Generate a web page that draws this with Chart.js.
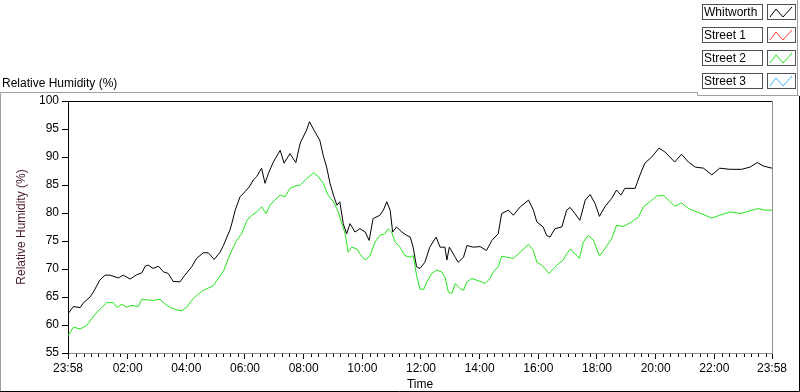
<!DOCTYPE html>
<html>
<head>
<meta charset="utf-8">
<script src="https://cdn.jsdelivr.net/npm/chart.js@4.4.0/dist/chart.umd.min.js"></script>
<style>
    html, body { margin: 0; padding: 0; background: #fff; }
</style>
</head>
<body>
<canvas id="chart-rh" width="800" height="392"></canvas>
<script>
// 時間軸: 23:58 起算的分鐘數
var tickLabels = ["23:58", "02:00", "04:00", "06:00", "08:00", "10:00", "12:00", "14:00", "16:00", "18:00", "20:00", "22:00", "23:58"];
var seriesNames = ["Whitworth", "Street 1", "Street 2", "Street 3"];
var seriesColors = ["#000000", "#ff3b3b", "#22e619", "#3fb4ff"];

var whitworthTime = [0, 11, 25, 31, 45, 52, 65, 76, 86, 103, 113, 127, 141, 151, 158, 164, 174, 185, 195, 205, 215, 229, 239, 253, 263, 277, 287, 299, 311, 318, 325, 331, 335, 342, 352, 362, 372, 379, 386, 396, 403, 410, 420, 434, 442, 454, 466, 475, 488, 494, 505, 515, 522, 529, 536, 543, 550, 556, 563, 570, 577, 587, 597, 608, 616, 624, 638, 645, 652, 659, 664, 672, 683, 693, 700, 706, 713, 720, 730, 740, 753, 761, 771, 775, 780, 792, 798, 809, 816, 829, 843, 856, 867, 880, 887, 901, 911, 925, 942, 952, 959, 972, 979, 986, 996, 1010, 1020, 1027, 1037, 1047, 1058, 1068, 1078, 1087, 1098, 1112, 1122, 1131, 1139, 1160, 1170, 1180, 1194, 1209, 1221, 1241, 1255, 1269, 1283, 1300, 1317, 1333, 1354, 1378, 1395, 1410, 1422, 1440];
var whitworthRH = [62.0, 63.3, 63.1, 63.9, 65.0, 65.9, 68.0, 68.9, 68.9, 68.4, 68.9, 68.2, 69.0, 69.3, 70.5, 70.7, 70.1, 70.5, 69.5, 69.2, 67.8, 67.7, 68.9, 70.4, 71.9, 72.9, 72.9, 71.7, 73.0, 74.2, 75.7, 76.9, 78.1, 80.5, 82.9, 83.8, 84.8, 85.9, 86.5, 88.0, 85.3, 87.1, 89.1, 91.2, 88.9, 90.6, 89.0, 92.5, 94.8, 96.3, 94.5, 93.0, 90.3, 88.2, 85.3, 83.2, 81.4, 82.0, 78.1, 76.3, 78.1, 76.6, 77.2, 76.6, 75.1, 79.0, 79.6, 80.5, 82.0, 80.5, 76.6, 77.5, 76.6, 76.0, 75.7, 73.9, 70.4, 70.1, 71.2, 73.9, 75.7, 73.9, 73.9, 71.6, 73.9, 72.1, 71.2, 72.1, 74.2, 73.9, 74.0, 73.3, 75.1, 76.3, 79.9, 80.5, 79.6, 81.1, 82.3, 80.5, 78.4, 77.5, 76.0, 75.7, 77.2, 77.5, 80.5, 81.0, 79.9, 78.7, 82.3, 83.3, 81.7, 79.4, 81.1, 82.6, 84.1, 83.2, 84.4, 84.4, 86.8, 88.9, 90.0, 91.6, 90.9, 89.1, 90.5, 89.1, 88.2, 88.0, 86.8, 88.0, 87.8, 87.8, 88.2, 89.0, 88.4, 88.0];

var street2Time = [0, 11, 25, 38, 48, 59, 69, 79, 93, 100, 110, 120, 130, 144, 151, 161, 174, 188, 198, 209, 219, 233, 243, 253, 263, 277, 287, 297, 307, 318, 328, 338, 345, 355, 366, 376, 386, 396, 405, 413, 423, 434, 444, 454, 464, 475, 488, 502, 512, 522, 532, 543, 553, 560, 567, 573, 580, 591, 597, 608, 618, 628, 638, 648, 655, 662, 669, 679, 689, 700, 706, 713, 720, 728, 734, 744, 754, 764, 771, 778, 785, 792, 802, 809, 816, 826, 836, 846, 853, 863, 870, 880, 887, 897, 911, 925, 942, 952, 959, 969, 984, 1000, 1013, 1020, 1028, 1037, 1046, 1054, 1064, 1075, 1087, 1098, 1112, 1122, 1136, 1153, 1167, 1177, 1190, 1204, 1218, 1228, 1241, 1255, 1269, 1286, 1303, 1317, 1333, 1354, 1375, 1395, 1412, 1426, 1440];
var street2RH = [58.1, 59.6, 59.3, 59.9, 61.1, 62.3, 63.1, 64.0, 64.0, 63.1, 63.7, 63.2, 63.5, 63.3, 64.6, 64.5, 64.4, 64.6, 63.8, 63.1, 62.8, 62.5, 63.2, 64.4, 65.3, 66.2, 66.6, 67.0, 68.3, 69.6, 71.9, 73.9, 75.1, 76.3, 78.7, 79.6, 80.2, 81.1, 79.9, 81.4, 82.3, 83.2, 82.9, 84.4, 84.8, 85.0, 86.1, 87.2, 86.5, 85.3, 83.2, 82.0, 80.2, 78.1, 76.3, 73.0, 73.9, 73.6, 72.7, 71.6, 72.4, 74.8, 76.0, 76.3, 77.2, 76.6, 74.8, 73.9, 72.4, 72.1, 72.4, 68.9, 66.4, 66.4, 67.7, 69.2, 69.8, 69.5, 68.6, 65.9, 65.6, 67.4, 66.5, 66.2, 67.7, 68.3, 68.0, 67.7, 67.4, 68.3, 69.5, 70.4, 72.3, 72.1, 71.9, 73.0, 74.4, 73.3, 71.2, 70.7, 69.2, 70.7, 71.6, 72.7, 73.6, 72.7, 71.9, 74.8, 76.0, 75.1, 72.3, 73.6, 75.4, 77.8, 77.6, 78.4, 79.3, 81.1, 82.0, 83.0, 83.2, 82.3, 81.2, 81.8, 80.8, 80.2, 79.6, 79.1, 79.6, 80.2, 79.9, 80.4, 80.8, 80.5, 80.5];

var street1Time = [];
var street1RH = [];
var street3Time = [];
var street3RH = [];

var START_MIN = 23 * 60 + 58;
var FONT = "'Liberation Sans', Arial, sans-serif";

function toMinutes(label, i) {
    if (i === 0) return 0;
    if (i === tickLabels.length - 1) return 1440;
    var p = label.split(":");
    var m = (+p[0]) * 60 + (+p[1]) - START_MIN;
    return m < 0 ? m + 1440 : m;
}
var majorTicks = tickLabels.map(toMinutes);

function pts(t, v) {
    return t.map(function (x, i) { return { x: x, y: v[i] }; });
}

// 外框、圖例等裝飾
var panelPlugin = {
    id: "panel",
    beforeDraw: function (chart) {
        var c = chart.ctx;
        c.save();
        c.fillStyle = "#fff";
        c.fillRect(0, 0, chart.width, chart.height);
        c.lineWidth = 1;
        c.strokeStyle = "#a0a0a0";
        c.beginPath();
        c.moveTo(0.5, 391);
        c.lineTo(0.5, 92.5);
        c.lineTo(697.5, 92.5);
        c.lineTo(697.5, 95.5);
        c.lineTo(799, 95.5);
        c.moveTo(797.5, 0);
        c.lineTo(797.5, 95);
        c.stroke();
        c.strokeStyle = "#000";
        c.beginPath();
        c.moveTo(799.5, 96);
        c.lineTo(799.5, 391.5);
        c.lineTo(0, 391.5);
        c.stroke();
        c.fillStyle = "#000";
        c.font = "12px " + FONT;
        c.textBaseline = "alphabetic";
        c.textAlign = "left";
        c.fillText("Relative Humidity (%)", 2, 87);
        c.restore();
    },
    afterDraw: function (chart) {
        var c = chart.ctx, a = chart.chartArea, xs = chart.scales.x;
        c.save();
        c.lineWidth = 1;
        // 上、右框線
        c.strokeStyle = "#000";
        c.beginPath();
        c.moveTo(a.left, a.top + 0.5);
        c.lineTo(a.right, a.top + 0.5);
        c.stroke();
        c.strokeStyle = "#909090";
        c.beginPath();
        c.moveTo(a.right + 0.5, a.top);
        c.lineTo(a.right + 0.5, a.bottom);
        c.stroke();
        // 小刻度 每 15 分鐘
        c.strokeStyle = "#000";
        c.beginPath();
        for (var m = 17; m < 1440; m += 15) {
            var near = majorTicks.some(function (t) { return Math.abs(t - m) < 4; });
            if (near) continue;
            var px = Math.round(xs.getPixelForValue(m)) + 0.5;
            c.moveTo(px, a.bottom + 1);
            c.lineTo(px, a.bottom + 4);
        }
        c.stroke();
        // 圖例
        chart.data.datasets.forEach(function (ds, i) {
            var y = 4 + 23 * i;
            c.fillStyle = "#fff";
            c.fillRect(702, y, 61, 16);
            c.fillRect(767, y, 29, 16);
            c.strokeStyle = "#505050";
            c.strokeRect(702.5, y + 0.5, 60, 15);
            c.strokeRect(767.5, y + 0.5, 28, 15);
            c.fillStyle = "#000";
            c.font = "12px " + FONT;
            c.textBaseline = "middle";
            c.textAlign = "left";
            c.fillText(ds.label, 704, y + 8.5);
            c.strokeStyle = ds.borderColor;
            c.beginPath();
            c.moveTo(770, y + 13);
            c.lineTo(776, y + 5);
            c.lineTo(783, y + 13);
            c.lineTo(792, y + 3);
            c.stroke();
        });
        c.restore();
    }
};

var ctx = document.getElementById("chart-rh").getContext("2d");
new Chart(ctx, {
    type: "line",
    data: {
        datasets: [
            { label: seriesNames[0], data: pts(whitworthTime, whitworthRH), borderColor: seriesColors[0] },
            { label: seriesNames[1], data: pts(street1Time, street1RH), borderColor: seriesColors[1] },
            { label: seriesNames[2], data: pts(street2Time, street2RH), borderColor: seriesColors[2] },
            { label: seriesNames[3], data: pts(street3Time, street3RH), borderColor: seriesColors[3] }
        ].map(function (d) {
            d.borderWidth = 1;
            d.pointRadius = 0;
            d.tension = 0;
            d.fill = false;
            return d;
        })
    },
    options: {
        responsive: false,
        animation: false,
        devicePixelRatio: 1,
        layout: { padding: { top: 101, right: 28, left: 0, bottom: 0 } },
        plugins: { legend: { display: false }, tooltip: { enabled: false } },
        scales: {
            x: {
                type: "linear",
                min: 0,
                max: 1440,
                afterBuildTicks: function (scale) {
                    scale.ticks = majorTicks.map(function (v) { return { value: v }; });
                },
                afterFit: function (scale) { scale.height = 39; },
                border: { color: "#909090" },
                grid: { drawOnChartArea: false, drawTicks: true, tickLength: 6, tickColor: "#000" },
                ticks: {
                    autoSkip: false,
                    maxRotation: 0,
                    padding: 2,
                    color: "#000",
                    font: { family: FONT, size: 12 },
                    callback: function (v) {
                        var i = majorTicks.indexOf(v);
                        return i >= 0 ? tickLabels[i] : "";
                    }
                },
                title: {
                    display: true,
                    text: "Time",
                    color: "#000",
                    font: { family: FONT, size: 12 },
                    padding: { top: 0, bottom: 0 }
                }
            },
            y: {
                min: 55,
                max: 100,
                afterFit: function (scale) { scale.width = 68; },
                border: { color: "#000" },
                grid: { drawOnChartArea: false, drawTicks: true, tickLength: 6, tickColor: "#000" },
                ticks: {
                    stepSize: 5,
                    padding: 3,
                    color: "#000",
                    font: { family: FONT, size: 12 }
                },
                title: {
                    display: true,
                    text: "Relative Humidity (%)",
                    color: "#4a1a2a",
                    font: { family: FONT, size: 12 },
                    padding: { top: 14, bottom: 0 }
                }
            }
        }
    },
    plugins: [panelPlugin]
});
</script>
</body>
</html>
